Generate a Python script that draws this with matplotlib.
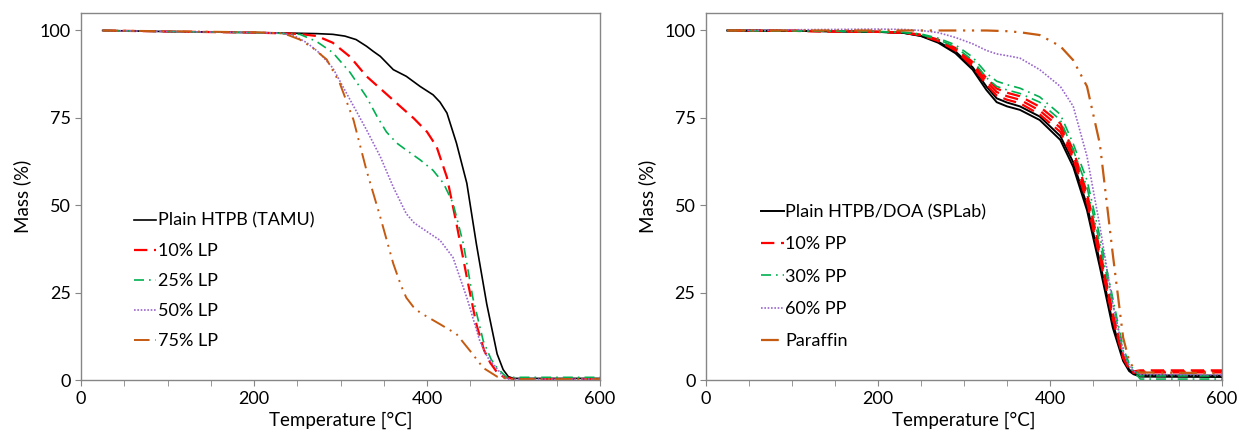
#!/usr/bin/env python3
import matplotlib.pyplot as plt
from matplotlib.ticker import MultipleLocator

plt.rcParams['font.family'] = ['Lato', 'DejaVu Sans']

# ---- left panel: HTPB (TAMU) with LP ----
t_plain = [25, 100, 200, 230, 253, 273, 291, 305, 318, 330, 338, 346, 361, 376, 392, 407, 415, 423, 434, 446, 457, 469, 481, 488, 494, 500, 600]
m_plain = [100, 99.7, 99.4, 99.3, 99.2, 99.1, 98.9, 98.4, 97.4, 95.5, 94.0, 92.6, 88.8, 86.9, 84.0, 81.6, 79.5, 76.4, 67.8, 56.3, 39.0, 21.8, 7.5, 3.0, 1.0, 0.5, 0.5]

t_lp10 = [25, 100, 200, 230, 253, 273, 291, 311, 330, 350, 369, 385, 400, 411, 423, 434, 446, 457, 466, 473, 481, 488, 500, 600]
m_lp10 = [100, 99.7, 99.4, 99.2, 99.0, 98.4, 96.5, 92.5, 86.9, 82.5, 78.3, 74.8, 71.0, 66.8, 58.0, 44.8, 29.4, 16.0, 8.5, 5.0, 2.2, 1.0, 0.3, 0.3]

t_lp25 = [25, 100, 200, 230, 253, 272, 291, 311, 330, 342, 353, 365, 376, 392, 407, 419, 430, 442, 453, 465, 474, 481, 492, 505, 600]
m_lp25 = [100, 99.7, 99.4, 99.2, 98.9, 96.9, 93.7, 88.0, 81.0, 75.5, 71.0, 67.8, 65.8, 63.0, 60.0, 56.3, 50.6, 39.0, 23.5, 11.2, 6.0, 3.5, 0.8, 0.8, 0.8]

t_lp50 = [25, 100, 200, 234, 248, 261, 276, 291, 311, 330, 346, 361, 376, 385, 392, 404, 415, 430, 446, 461, 470, 477, 485, 492, 505, 600]
m_lp50 = [100, 99.7, 99.4, 99.2, 98.3, 96.5, 93.5, 89.3, 80.2, 71.6, 63.9, 55.2, 47.6, 45.0, 43.8, 41.8, 40.0, 35.1, 23.6, 11.2, 6.5, 4.5, 2.0, 0.3, 0.3, 0.3]

t_lp75 = [25, 100, 200, 234, 253, 268, 284, 299, 315, 330, 346, 361, 370, 376, 384, 392, 415, 434, 450, 465, 481, 495, 600]
m_lp75 = [100, 99.8, 99.5, 99.2, 97.4, 95.0, 91.7, 85.0, 74.4, 60.0, 46.6, 33.3, 27.0, 23.6, 21.0, 19.3, 16.0, 13.2, 8.3, 3.5, 1.0, 0.3, 0.3]

# ---- right panel: HTPB/DOA (SPLab) with PP, two or three runs each ----
t_r = [25, 100, 200, 230, 250, 270, 290, 310, 326, 338, 350, 365, 388, 412, 427, 443, 458, 473, 485, 492, 497, 505, 600]
m_doa_a = [100, 99.9, 99.6, 99.3, 98.4, 96.5, 93.5, 88.8, 83.0, 79.5, 78.3, 77.3, 74.4, 68.7, 61.0, 48.6, 32.3, 15.0, 5.5, 2.6, 1.7, 1.0, 0.9]
m_doa_b = [100, 99.9, 99.6, 99.3, 98.5, 96.8, 94.0, 89.5, 84.0, 80.6, 79.4, 78.3, 75.4, 69.8, 62.3, 50.0, 33.8, 16.2, 6.2, 3.0, 2.1, 1.4, 1.3]
m_pp10_a = [100, 99.9, 99.6, 99.4, 98.6, 97.0, 94.3, 89.8, 84.6, 81.4, 80.2, 79.2, 76.0, 71.0, 63.4, 51.0, 34.8, 17.5, 6.3, 3.2, 2.1, 2.2, 2.2]
m_pp10_b = [100, 99.9, 99.6, 99.4, 98.7, 97.2, 94.7, 90.4, 85.5, 82.4, 81.2, 80.2, 77.1, 72.2, 64.6, 52.3, 36.0, 18.3, 6.7, 3.4, 2.3, 2.5, 2.5]
m_pp10_c = [100, 99.9, 99.6, 99.4, 98.8, 97.4, 95.0, 91.0, 86.4, 83.4, 82.2, 81.2, 78.2, 73.4, 65.8, 53.5, 37.2, 19.2, 7.0, 3.6, 2.5, 2.8, 2.8]
m_pp30_a = [100, 99.9, 99.7, 99.4, 98.8, 97.4, 95.3, 91.5, 86.5, 84.0, 83.0, 82.0, 79.5, 74.4, 65.8, 55.2, 39.0, 21.8, 8.3, 4.2, 2.6, 0.3, 0.3]
m_pp30_b = [100, 99.9, 99.7, 99.5, 99.0, 97.8, 95.9, 92.4, 87.8, 85.5, 84.5, 83.5, 81.0, 76.0, 67.6, 57.2, 41.0, 23.4, 9.2, 4.8, 3.0, 1.2, 1.2]
m_pp60 = [100, 100.2, 100.4, 100.3, 100.0, 99.4, 98.0, 96.2, 94.3, 93.3, 92.8, 92.1, 88.8, 84.0, 78.3, 64.0, 44.0, 21.8, 8.3, 4.0, 2.6, 1.6, 1.5]
m_paraffin = [100, 100, 100, 100, 100, 100, 100, 100, 100, 99.9, 99.8, 99.5, 98.7, 95.5, 91.5, 84.0, 67.5, 36.0, 12.2, 5.5, 3.5, 2.2, 2.0]

c_black = '#000000'
c_red = '#FF0000'
c_green = '#00B050'
c_purple = '#9966CC'
c_orange = '#C55A11'

ls_dash = (0, (6, 3))
ls_dashdot = (0, (6, 3, 1, 3))
ls_dot = (0, (1, 1))
ls_dashdotdot = (0, (8, 3, 1, 3, 1, 3))

fig = plt.figure(figsize=(12.39, 4.41), dpi=100)
ax1 = fig.add_axes([0.0654, 0.138, 0.4189, 0.8325])
ax2 = fig.add_axes([0.5698, 0.138, 0.4165, 0.8325])

ax1.plot(t_plain, m_plain, color=c_black, lw=1.2, label='Plain HTPB (TAMU)')
ax1.plot(t_lp10, m_lp10, color=c_red, lw=1.6, ls=ls_dash, label='10% LP')
ax1.plot(t_lp25, m_lp25, color=c_green, lw=1.2, ls=ls_dashdot, label='25% LP')
ax1.plot(t_lp50, m_lp50, color=c_purple, lw=1.2, ls=ls_dot, label='50% LP')
ax1.plot(t_lp75, m_lp75, color=c_orange, lw=1.4, ls=ls_dashdotdot, label='75% LP')

ax2.plot(t_r, m_doa_a, color=c_black, lw=1.4, label='Plain HTPB/DOA (SPLab)')
ax2.plot(t_r, m_doa_b, color=c_black, lw=1.4)
ax2.plot(t_r, m_pp10_a, color=c_red, lw=1.6, ls=ls_dash, label='10% PP')
ax2.plot(t_r, m_pp10_b, color=c_red, lw=1.6, ls=ls_dash)
ax2.plot(t_r, m_pp10_c, color=c_red, lw=1.6, ls=ls_dash)
ax2.plot(t_r, m_pp30_a, color=c_green, lw=1.2, ls=ls_dashdot, label='30% PP')
ax2.plot(t_r, m_pp30_b, color=c_green, lw=1.2, ls=ls_dashdot)
ax2.plot(t_r, m_pp60, color=c_purple, lw=1.2, ls=ls_dot, label='60% PP')
ax2.plot(t_r, m_paraffin, color=c_orange, lw=1.6, ls=ls_dashdotdot, label='Paraffin')

for ax in (ax1, ax2):
    ax.set_xlim(0, 600)
    ax.set_ylim(0, 105)
    ax.set_xticks([0, 200, 400, 600])
    ax.xaxis.set_minor_locator(MultipleLocator(50))
    ax.set_yticks([0, 25, 50, 75, 100])
    ax.tick_params(axis='both', which='both', direction='out', length=4,
                   color='#868686', labelsize=13, labelcolor='black')
    for s in ax.spines.values():
        s.set_color('#868686')
        s.set_linewidth(1.0)
    ax.set_xlabel('Temperature [°C]', fontsize=13.5, labelpad=4)
    ax.set_ylabel('Mass (%)', fontsize=13.5, labelpad=6)

ax1.legend(loc='lower left', bbox_to_anchor=(0.07, 0.04), frameon=False,
           fontsize=13, handlelength=1.25, handletextpad=0.1, labelspacing=0.78)
ax2.legend(loc='lower left', bbox_to_anchor=(0.075, 0.04), frameon=False,
           fontsize=13, handlelength=1.25, handletextpad=0.1, labelspacing=0.9)

fig.savefig('out.png', dpi=100)
